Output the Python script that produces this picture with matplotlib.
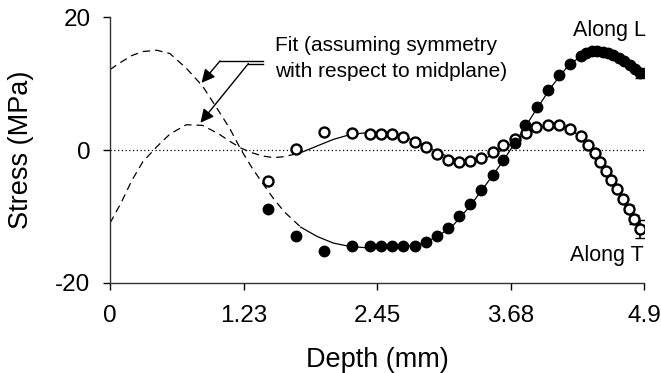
import numpy as np
import matplotlib
matplotlib.use("Agg")
import matplotlib.pyplot as plt

plt.rcParams['font.family'] = ['Liberation Sans', 'DejaVu Sans']
plt.rcParams['axes.unicode_minus'] = False

# measured residual stress, along L (filled) and along T (open)
depth_L = [1.45, 1.71, 1.96, 2.22, 2.39, 2.49, 2.59, 2.69, 2.80, 2.90, 3.00, 3.10,
           3.20, 3.30, 3.40, 3.51, 3.61, 3.72, 3.81, 3.92, 4.02, 4.12, 4.22, 4.32,
           4.37, 4.42, 4.47, 4.52, 4.57, 4.62, 4.67, 4.72, 4.77, 4.82, 4.86]
stress_L = [-8.8, -12.9, -15.2, -14.5, -14.5, -14.5, -14.5, -14.5, -14.4, -13.9, -12.9, -11.7,
            -10.0, -8.1, -6.0, -3.8, -1.5, 1.0, 3.8, 6.4, 9.0, 11.3, 13.0, 14.2,
            14.6, 14.9, 14.9, 14.8, 14.6, 14.3, 13.9, 13.4, 12.8, 12.2, 11.6]
err_L = [0] * 34 + [0.8]

depth_T = [1.45, 1.71, 1.96, 2.22, 2.39, 2.49, 2.59, 2.69, 2.80, 2.90, 3.00, 3.10,
           3.20, 3.30, 3.40, 3.51, 3.61, 3.72, 3.82, 3.91, 4.02, 4.12, 4.22, 4.32,
           4.39, 4.45, 4.50, 4.55, 4.60, 4.65, 4.71, 4.76, 4.81, 4.86]
stress_T = [-4.7, 0.2, 2.7, 2.6, 2.4, 2.4, 2.4, 2.0, 1.25, 0.45, -0.55, -1.45,
            -1.75, -1.65, -1.15, -0.35, 0.7, 1.7, 2.6, 3.5, 3.8, 3.8, 3.1, 2.1,
            0.7, -0.4, -1.75, -3.2, -4.5, -5.9, -7.4, -8.8, -10.4, -11.9]
err_T = [0] * 31 + [0.5, 0.7, 1.4]

# symmetric fits (dashed where extrapolated)
fit_depth = [0, 0.1, 0.2, 0.3, 0.43, 0.55, 0.7, 0.85, 1.0, 1.1, 1.2, 1.3, 1.4, 1.5,
             1.6, 1.75, 1.9, 2.05, 2.2, 2.35, 2.45, 2.55, 2.7, 2.85, 3.0, 3.15,
             3.3, 3.45, 3.6, 3.75, 3.9, 4.05, 4.2, 4.35, 4.45, 4.55, 4.65, 4.75,
             4.85, 4.9]
fit_L = [12.1, 13.2, 14.2, 14.8, 15.0, 14.5, 12.3, 9.6, 5.8, 3.2, 0.1, -2.6, -5.0, -7.3,
         -9.3, -11.6, -13.0, -14.0, -14.5, -14.7, -14.7, -14.7, -14.5, -14.1, -13.1, -11.3,
         -8.5, -5.2, -1.8, 1.9, 5.8, 9.5, 12.6, 14.5, 15.0, 14.8, 14.1, 13.0,
         11.8, 11.3]
fit_T = [-11.0, -8.0, -4.6, -1.8, 0.5, 2.4, 3.8, 3.7, 2.4, 1.3, 0.3, -0.4, -0.9, -1.15,
         -1.0, -0.4, 0.6, 1.6, 2.3, 2.6, 2.6, 2.5, 2.0, 1.0, -0.3, -1.3,
         -1.7, -1.2, 0.0, 1.8, 3.2, 3.9, 3.4, 1.6, -0.3, -2.8, -5.7, -8.7,
         -11.6, -12.6]
fit_split = 1.75

x_ticks = [0, 1.23, 2.45, 3.68, 4.9]
x_labels = ['0', '1.23', '2.45', '3.68', '4.9']
y_ticks = [-20, 0, 20]

fig = plt.figure(figsize=(6.61, 3.73), dpi=100)
ax = fig.add_axes([0.1664, 0.2413, 0.8079, 0.7131])

fd = np.array(fit_depth)
dash = fd <= fit_split
solid = fd >= fit_split
for fv in (fit_L, fit_T):
    fv = np.array(fv)
    ax.plot(fd[dash], fv[dash], color='black', lw=0.9, dashes=(6, 4))
    ax.plot(fd[solid], fv[solid], color='black', lw=0.9)

ax.axhline(0, color='black', lw=0.9, ls=(0, (1, 2)))

dT, sT, eT = np.array(depth_T), np.array(stress_T), np.array(err_T)
m = eT > 0
ax.errorbar(dT[m], sT[m], yerr=eT[m], fmt='none', ecolor='black', elinewidth=1.2, capsize=3.5)
ax.plot(dT, sT, 'o', ms=7.2, mfc='white', mec='black', mew=1.7)

dL, sL, eL = np.array(depth_L), np.array(stress_L), np.array(err_L)
m = eL > 0
ax.errorbar(dL[m], sL[m], yerr=eL[m], fmt='none', ecolor='black', elinewidth=1.2, capsize=3.5)
ax.plot(dL, sL, 'o', ms=7.5, mfc='black', mec='black')

# annotation
ax.text(1.51, 17.1, 'Fit (assuming symmetry\nwith respect to midplane)', fontsize=15,
        ha='left', va='top', linespacing=1.45)
ax.plot([1.40, 1.01], [13.4, 13.4], color='black', lw=1)
ax.plot([1.40, 1.27], [13.0, 13.0], color='black', lw=1)
ax.annotate('', xy=(0.84, 10.1), xytext=(1.01, 13.4),
            arrowprops=dict(arrowstyle='-|>', color='black', lw=1, mutation_scale=20,
                            shrinkA=0, shrinkB=0))
ax.annotate('', xy=(0.83, 4.1), xytext=(1.27, 13.0),
            arrowprops=dict(arrowstyle='-|>', color='black', lw=1, mutation_scale=20,
                            shrinkA=0, shrinkB=0))

ax.text(4.92, 18.0, 'Along L', fontsize=15.5, ha='right', va='center')
ax.text(4.90, -15.9, 'Along T', fontsize=15.5, ha='right', va='center')

ax.set_xlim(0, 4.9)
ax.set_ylim(-20, 20)
ax.set_xticks(x_ticks)
ax.set_xticklabels(x_labels)
ax.set_yticks(y_ticks)
ax.tick_params(direction='out', length=5, width=1, labelsize=17.5)
ax.tick_params(axis='x', pad=11)
ax.tick_params(axis='y', pad=9)
for s in ['top', 'right']:
    ax.spines[s].set_visible(False)
for s in ['left', 'bottom']:
    ax.spines[s].set_color('#333333')
    ax.spines[s].set_linewidth(1)

ax.set_xlabel('Depth (mm)', fontsize=19.5, labelpad=14)
ax.set_ylabel('Stress (MPa)', fontsize=19.5, labelpad=15)

fig.savefig('out.png', dpi=100)
